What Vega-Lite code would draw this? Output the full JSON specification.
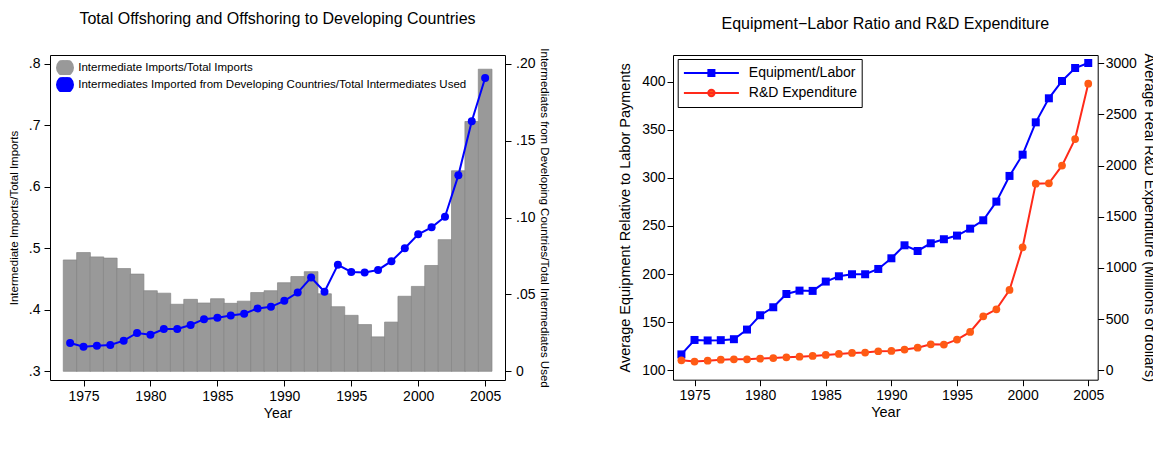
{
  "$schema": "https://vega.github.io/schema/vega-lite/v6.json",
  "padding": {"left": 7, "top": 10, "right": 0, "bottom": 0},
  "spacing": 66,
  "resolve": {"scale": {"color": "independent"}, "legend": {"color": "independent"}},
  "config": {
    "font": "Liberation Sans",
    "view": {"stroke": "black", "strokeWidth": 1},
    "axis": {
      "domain": false, "grid": false, "tickColor": "black", "tickSize": 6, "tickWidth": 1,
      "labelColor": "black", "titleColor": "black", "labelFont": "Liberation Sans", "titleFont": "Liberation Sans",
      "labelFontSize": 14, "titleFontWeight": "normal", "labelFlush": false, "labelOverlap": false
    },
    "title": {"font": "Liberation Sans", "fontWeight": "normal", "fontSize": 16, "color": "black"},
    "legend": {"labelFont": "Liberation Sans", "labelColor": "black"}
  },
  "hconcat": [
    {
      "title": {"text": "(a)", "orient": "bottom", "font": "Liberation Serif", "fontSize": 19, "fontWeight": "normal", "baseline": "top", "offset": 38, "anchor": "middle"},
      "vconcat": [
        {
          "width": 455,
          "height": 325,
          "title": {"text": "Total Offshoring and Offshoring to Developing Countries", "frame": "group", "anchor": "middle", "offset": 8, "baseline": "alphabetic"},
          "data": {"values": [
            {"year": 1974, "imports": 0.481, "dev": 0.0184},
            {"year": 1975, "imports": 0.493, "dev": 0.0160},
            {"year": 1976, "imports": 0.486, "dev": 0.0166},
            {"year": 1977, "imports": 0.484, "dev": 0.0171},
            {"year": 1978, "imports": 0.467, "dev": 0.0199},
            {"year": 1979, "imports": 0.458, "dev": 0.0249},
            {"year": 1980, "imports": 0.431, "dev": 0.0238},
            {"year": 1981, "imports": 0.427, "dev": 0.0275},
            {"year": 1982, "imports": 0.409, "dev": 0.0275},
            {"year": 1983, "imports": 0.417, "dev": 0.0301},
            {"year": 1984, "imports": 0.411, "dev": 0.0339},
            {"year": 1985, "imports": 0.418, "dev": 0.0348},
            {"year": 1986, "imports": 0.4105, "dev": 0.0363},
            {"year": 1987, "imports": 0.414, "dev": 0.0374},
            {"year": 1988, "imports": 0.428, "dev": 0.0409},
            {"year": 1989, "imports": 0.431, "dev": 0.0419},
            {"year": 1990, "imports": 0.444, "dev": 0.0458},
            {"year": 1991, "imports": 0.454, "dev": 0.0512},
            {"year": 1992, "imports": 0.462, "dev": 0.0610},
            {"year": 1993, "imports": 0.426, "dev": 0.0517},
            {"year": 1994, "imports": 0.405, "dev": 0.0692},
            {"year": 1995, "imports": 0.391, "dev": 0.0646},
            {"year": 1996, "imports": 0.376, "dev": 0.0642},
            {"year": 1997, "imports": 0.356, "dev": 0.0659},
            {"year": 1998, "imports": 0.380, "dev": 0.0716},
            {"year": 1999, "imports": 0.422, "dev": 0.0800},
            {"year": 2000, "imports": 0.438, "dev": 0.0891},
            {"year": 2001, "imports": 0.472, "dev": 0.0936},
            {"year": 2002, "imports": 0.514, "dev": 0.1005},
            {"year": 2003, "imports": 0.626, "dev": 0.1274},
            {"year": 2004, "imports": 0.706, "dev": 0.1626},
            {"year": 2005, "imports": 0.791, "dev": 0.1907}
          ]},
          "layer": [
            {
              "mark": {"type": "bar", "width": 13.7, "color": "#999999", "stroke": "#858585", "strokeWidth": 0.7},
              "encoding": {
                "x": {"field": "year", "type": "quantitative",
                  "scale": {"domain": [1972.87, 2006.11], "nice": false, "zero": false},
                  "axis": {"values": [1975, 1980, 1985, 1990, 1995, 2000, 2005], "format": "d", "title": "Year", "labelPadding": 3, "titlePadding": 3, "titleFontSize": 14}},
                "y": {"field": "imports", "type": "quantitative",
                  "scale": {"domain": [0.2859, 0.8141], "nice": false, "zero": false},
                  "axis": {"values": [0.3, 0.4, 0.5, 0.6, 0.7, 0.8], "labelExpr": "replace(format(datum.value, '.1f'), /^0/, '')", "title": "Intermediate Imports/Total Imports", "titleFontSize": 11.5, "labelPadding": 4, "titlePadding": 9}},
                "y2": {"datum": 0.3},
                "color": {"datum": "Intermediate Imports/Total Imports", "type": "nominal",
                  "scale": {"domain": ["Intermediate Imports/Total Imports", "Intermediates Imported from Developing Countries/Total Intermediates Used"], "range": ["#999999", "#0000ff"]},
                  "legend": {
                    "title": null, "orient": "none", "legendX": 6, "legendY": 5.3, "padding": 0,
                    "labelFontSize": 11.5, "labelLimit": 600, "labelOffset": 4.2,
                    "symbolSize": 256, "symbolStrokeWidth": 2, "clipHeight": 14.7, "rowPadding": 2, "symbolOffset": 0,
                    "encode": {"symbols": {"update": {
                      "shape": [{"test": "datum.value === 'Intermediate Imports/Total Imports'", "value": "M-1,-0.625H1V0.625H-1Z"}, {"value": "M-1,0H1M0.45,0A0.45,0.45 0 1,1 -0.45,0A0.45,0.45 0 1,1 0.45,0Z"}],
                      "fill": [{"test": "datum.value === 'Intermediate Imports/Total Imports'", "value": "#999999"}, {"value": "#0000ff"}],
                      "stroke": [{"test": "datum.value === 'Intermediate Imports/Total Imports'", "value": "#999999"}, {"value": "#0000ff"}],
                      "strokeWidth": [{"test": "datum.value === 'Intermediate Imports/Total Imports'", "value": 0}, {"value": 2}],
                      "opacity": {"value": 1}
                    }}}
                  }}
              }
            },
            {
              "mark": {"type": "line", "strokeWidth": 2, "point": {"filled": true, "size": 64, "opacity": 1}},
              "encoding": {
                "x": {"field": "year", "type": "quantitative"},
                "y": {"field": "dev", "type": "quantitative",
                  "scale": {"domain": [-0.00566, 0.20566], "nice": false, "zero": false},
                  "axis": {"orient": "right", "values": [0, 0.05, 0.1, 0.15, 0.2], "labelExpr": "datum.value == 0 ? '0' : replace(format(datum.value, '.2f'), /^0/, '')", "title": "Intermediates from Developing Countries/Total Intermediates Used", "titleFontSize": 11.5, "labelPadding": 4.5, "titlePadding": 4}},
                "color": {"datum": "Intermediates Imported from Developing Countries/Total Intermediates Used", "type": "nominal"}
              }
            }
          ],
          "resolve": {"scale": {"y": "independent"}}
        }
      ]
    },
    {
      "title": {"text": "(b)", "orient": "bottom", "font": "Liberation Serif", "fontSize": 19, "fontWeight": "normal", "baseline": "top", "offset": 38, "anchor": "middle"},
      "vconcat": [
        {
          "width": 424.7,
          "height": 324.7,
          "title": {"text": "Equipment−Labor Ratio and R&D Expenditure", "frame": "group", "anchor": "middle", "offset": 8, "baseline": "alphabetic"},
          "data": {"values": [
            {"year": 1974, "equip": 116.5, "rd": 97},
            {"year": 1975, "equip": 131.5, "rd": 85},
            {"year": 1976, "equip": 131.0, "rd": 94},
            {"year": 1977, "equip": 131.3, "rd": 104},
            {"year": 1978, "equip": 132.3, "rd": 107},
            {"year": 1979, "equip": 142.3, "rd": 107},
            {"year": 1980, "equip": 157.2, "rd": 114},
            {"year": 1981, "equip": 165.5, "rd": 120},
            {"year": 1982, "equip": 179.3, "rd": 127},
            {"year": 1983, "equip": 182.8, "rd": 133},
            {"year": 1984, "equip": 182.5, "rd": 140},
            {"year": 1985, "equip": 192.2, "rd": 150},
            {"year": 1986, "equip": 197.7, "rd": 160},
            {"year": 1987, "equip": 199.8, "rd": 169},
            {"year": 1988, "equip": 199.8, "rd": 173},
            {"year": 1989, "equip": 205.3, "rd": 186},
            {"year": 1990, "equip": 216.4, "rd": 189},
            {"year": 1991, "equip": 229.9, "rd": 202},
            {"year": 1992, "equip": 224.0, "rd": 221},
            {"year": 1993, "equip": 232.0, "rd": 254},
            {"year": 1994, "equip": 236.2, "rd": 251},
            {"year": 1995, "equip": 240.0, "rd": 300},
            {"year": 1996, "equip": 247.2, "rd": 375},
            {"year": 1997, "equip": 255.9, "rd": 528},
            {"year": 1998, "equip": 275.3, "rd": 596},
            {"year": 1999, "equip": 302.0, "rd": 785},
            {"year": 2000, "equip": 324.1, "rd": 1202},
            {"year": 2001, "equip": 357.7, "rd": 1824},
            {"year": 2002, "equip": 382.7, "rd": 1827},
            {"year": 2003, "equip": 400.7, "rd": 2000},
            {"year": 2004, "equip": 414.2, "rd": 2260},
            {"year": 2005, "equip": 419.4, "rd": 2801}
          ]},
          "layer": [
            {
              "layer": [
                {
                  "mark": {"type": "line", "strokeWidth": 2},
                  "encoding": {
                    "x": {"field": "year", "type": "quantitative",
                      "scale": {"domain": [1973.36, 2005.72], "nice": false, "zero": false},
                      "axis": {"values": [1975, 1980, 1985, 1990, 1995, 2000, 2005], "format": "d", "title": "Year", "labelPadding": 3, "titlePadding": 3, "titleFontSize": 14.5}},
                    "y": {"field": "equip", "type": "quantitative",
                      "scale": {"domain": [90.2, 427.7], "nice": false, "zero": false},
                      "axis": {"values": [100, 150, 200, 250, 300, 350, 400], "format": "d", "title": "Average Equipment Relative to Labor Payments", "titleFontSize": 14.5, "labelPadding": 2, "titlePadding": 9}},
                    "color": {"datum": "Equipment/Labor", "type": "nominal",
                      "scale": {"domain": ["Equipment/Labor", "R&D Expenditure"], "range": ["#0000ff", "#ff2a1a"]},
                      "legend": {
                        "title": null, "orient": "none", "legendX": 4.7, "legendY": 4, "padding": 4,
                        "strokeColor": "black",
                        "labelFontSize": 14, "labelLimit": 400, "labelOffset": 8.9,
                        "symbolSize": 3025, "symbolStrokeWidth": 2, "clipHeight": 20, "rowPadding": 0, "symbolOffset": 1.2,
                        "encode": {"symbols": {"update": {
                          "shape": [{"test": "datum.value === 'Equipment/Labor'", "value": "M-1,0H1M-0.11,-0.11H0.11V0.11H-0.11Z"}, {"value": "M-1,0H1M0.115,0A0.115,0.115 0 1,1 -0.115,0A0.115,0.115 0 1,1 0.115,0Z"}],
                          "fill": [{"test": "datum.value === 'Equipment/Labor'", "value": "#0000ff"}, {"value": "#ff5a14"}],
                          "stroke": [{"test": "datum.value === 'Equipment/Labor'", "value": "#0000ff"}, {"value": "#ff2a1a"}],
                          "strokeWidth": {"value": 2},
                          "opacity": {"value": 1}
                        }}}
                      }}
                  }
                },
                {
                  "mark": {"type": "point", "shape": "square", "filled": true, "size": 64, "color": "#0000ff", "opacity": 1},
                  "encoding": {
                    "x": {"field": "year", "type": "quantitative"},
                    "y": {"field": "equip", "type": "quantitative"}
                  }
                }
              ]
            },
            {
              "layer": [
                {
                  "mark": {"type": "line", "strokeWidth": 2},
                  "encoding": {
                    "x": {"field": "year", "type": "quantitative"},
                    "y": {"field": "rd", "type": "quantitative",
                      "scale": {"domain": [-92, 3081], "nice": false, "zero": false},
                      "axis": {"orient": "right", "values": [0, 500, 1000, 1500, 2000, 2500, 3000], "format": "d", "title": "Average Real R&D Expenditure (Millions of dollars)", "titleFontSize": 14.5, "labelPadding": 1.5, "titlePadding": 5}},
                    "color": {"datum": "R&D Expenditure", "type": "nominal"}
                  }
                },
                {
                  "mark": {"type": "point", "shape": "circle", "filled": true, "size": 60, "color": "#ff5a14", "opacity": 1},
                  "encoding": {
                    "x": {"field": "year", "type": "quantitative"},
                    "y": {"field": "rd", "type": "quantitative"}
                  }
                }
              ]
            }
          ],
          "resolve": {"scale": {"y": "independent"}}
        }
      ]
    }
  ]
}
